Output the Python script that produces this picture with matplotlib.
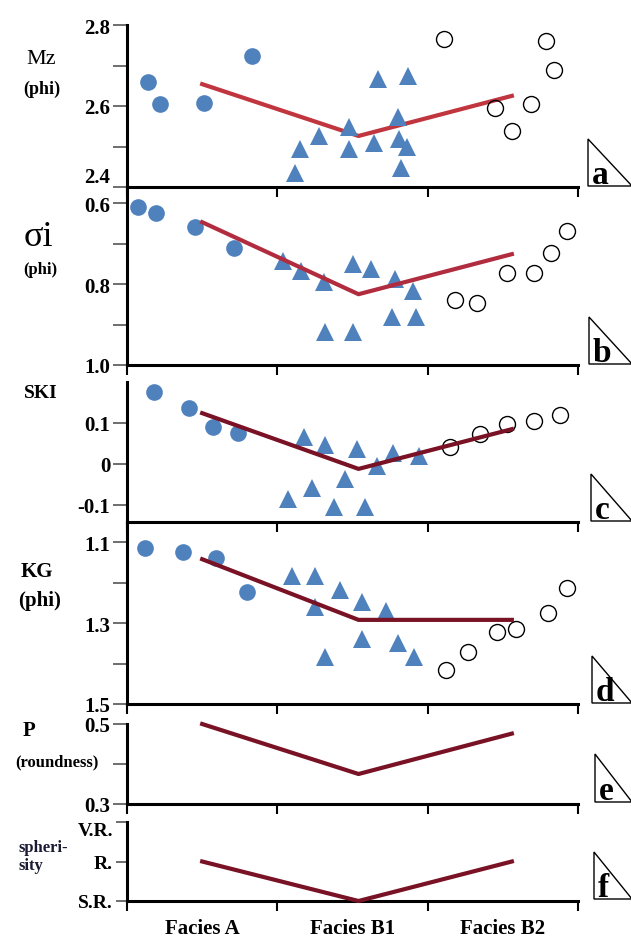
import matplotlib
matplotlib.use("Agg")
import matplotlib.pyplot as plt
from matplotlib.patches import Polygon

W, H = 631, 937
SERIF = ["Liberation Serif", "DejaVu Serif"]
BLUE = "#4f81bd"

facies_labels = ["Facies A", "Facies B1", "Facies B2"]
trend_x = [0.5, 1.54, 2.56]

# panel a: Mz (phi)
mz_a_x = [0.14, 0.22, 0.51, 0.83]
mz_a_y = [2.659, 2.605, 2.607, 2.723]
mz_b1_x = [1.12, 1.15, 1.28, 1.48, 1.48, 1.64, 1.67, 1.80, 1.81, 1.86, 1.82, 1.87]
mz_b1_y = [2.435, 2.494, 2.527, 2.494, 2.549, 2.509, 2.666, 2.573, 2.519, 2.499, 2.447, 2.674]
mz_b2_x = [2.11, 2.45, 2.56, 2.69, 2.79, 2.84]
mz_b2_y = [2.765, 2.595, 2.538, 2.605, 2.760, 2.690]
mz_trend = [2.654, 2.526, 2.625]

# panel b: sigma i (phi)
so_a_x = [0.07, 0.19, 0.45, 0.71]
so_a_y = [0.610, 0.625, 0.659, 0.711]
so_b1_x = [1.04, 1.16, 1.31, 1.32, 1.50, 1.50, 1.62, 1.78, 1.90, 1.76, 1.92]
so_b1_y = [0.743, 0.768, 0.795, 0.919, 0.919, 0.751, 0.763, 0.788, 0.817, 0.881, 0.881]
so_b2_x = [2.18, 2.33, 2.53, 2.71, 2.82, 2.93]
so_b2_y = [0.840, 0.847, 0.773, 0.773, 0.723, 0.669]
so_trend = [0.647, 0.825, 0.726]

# panel c: SKI
sk_a_x = [0.18, 0.41, 0.57, 0.74]
sk_a_y = [0.176, 0.137, 0.090, 0.076]
sk_b1_x = [1.07, 1.23, 1.18, 1.32, 1.53, 1.45, 1.38, 1.58, 1.66, 1.77, 1.94]
sk_b1_y = [-0.085, -0.059, 0.066, 0.046, 0.037, -0.037, -0.105, -0.105, -0.005, 0.027, 0.020]
sk_b2_x = [2.15, 2.35, 2.53, 2.71, 2.88]
sk_b2_y = [0.041, 0.073, 0.098, 0.105, 0.120]
sk_trend = [0.124, -0.012, 0.085]

# panel d: KG (phi)
kg_a_x = [0.12, 0.37, 0.59, 0.80]
kg_a_y = [1.115, 1.125, 1.140, 1.223]
kg_b1_x = [1.10, 1.25, 1.25, 1.42, 1.56, 1.72, 1.56, 1.80, 1.32, 1.91]
kg_b1_y = [1.184, 1.184, 1.260, 1.219, 1.248, 1.270, 1.340, 1.349, 1.384, 1.384]
kg_b2_x = [2.12, 2.27, 2.46, 2.59, 2.80, 2.93]
kg_b2_y = [1.416, 1.372, 1.322, 1.315, 1.275, 1.214]
kg_trend = [1.142, 1.292, 1.292]

# panel e: roundness, panel f: sphericity classes
round_trend = [0.50, 0.375, 0.476]
sph_levels = ["S.R.", "R.", "V.R."]
sph_trend = [1, 0, 1]


def rect(top, bottom, left=127, right=578):
    return [left / W, 1 - bottom / H, (right - left) / W, (bottom - top) / H]


def style_axis(ax, yticks, ylabels, ylim, tick_len=10, size=15):
    ax.set_xlim(0, 3)
    ax.set_ylim(*ylim)
    for side in ["top", "right"]:
        ax.spines[side].set_visible(False)
    ax.spines["left"].set_linewidth(2.2)
    ax.spines["bottom"].set_linewidth(2.2)
    ax.set_yticks(yticks)
    ax.set_yticklabels(ylabels, fontfamily=SERIF, fontweight="bold", fontsize=size)
    ax.tick_params(axis="y", direction="out", length=tick_len, width=1.2, color="#555555", pad=2)
    ax.set_xticks([0, 1, 2, 3])
    ax.set_xticklabels([])
    ax.tick_params(axis="x", direction="out", length=7, width=1.5, color="black")
    ax.patch.set_alpha(0)


def draw_points(ax, ax_x, ay, bx, by, cx, cy):
    ax.plot(ax_x, ay, "o", color=BLUE, markersize=12, markeredgewidth=0, zorder=3, clip_on=False)
    ax.plot(bx, by, "^", color=BLUE, markersize=13, markeredgewidth=0, zorder=3, clip_on=False)
    ax.plot(cx, cy, "o", markerfacecolor="none", markeredgecolor="black",
            markersize=11.5, markeredgewidth=1.0, zorder=3, clip_on=False)


def corner_tag(fig, letter, left, top, bottom, right=632):
    tri = Polygon([(left / W, 1 - top / H), (left / W, 1 - bottom / H), (right / W, 1 - bottom / H)],
                  closed=True, fill=False, edgecolor="black", linewidth=1.0,
                  transform=fig.transFigure)
    fig.patches.append(tri)
    fig.text((left + 4) / W, 1 - (bottom - 3) / H, letter, fontfamily=SERIF,
             fontweight="bold", fontsize=24, ha="left", va="baseline")


def label(fig, x, y, s, size=14, weight="bold", color="black"):
    fig.text(x / W, 1 - y / H, s, fontfamily=SERIF, fontweight=weight, fontsize=size,
             ha="center", va="center", color=color)


def main():
    fig = plt.figure(figsize=(W / 100, H / 100), dpi=100)

    # a
    ax = fig.add_axes(rect(26, 188))
    style_axis(ax, [2.4, 2.5, 2.6, 2.7, 2.8], ["2.4", "", "2.6", "", "2.8"], (2.4, 2.8))
    ax.get_yticklabels()[0].set_va("bottom")
    ax.plot(trend_x, mz_trend, color="#c0353e", linewidth=3, zorder=2)
    draw_points(ax, mz_a_x, mz_a_y, mz_b1_x, mz_b1_y, mz_b2_x, mz_b2_y)

    # b
    ax = fig.add_axes(rect(188, 366))
    style_axis(ax, [0.6, 0.7, 0.8, 0.9, 1.0], ["0.6", "", "0.8", "", "1.0"], (1.0, 0.56))
    draw_points(ax, so_a_x, so_a_y, so_b1_x, so_b1_y, so_b2_x, so_b2_y)
    ax.plot(trend_x, so_trend, color="#b02c3e", linewidth=3, zorder=4)

    # c
    ax = fig.add_axes(rect(383, 523))
    style_axis(ax, [-0.1, 0, 0.1], ["-0.1", "0", "0.1"], (-0.1415, 0.2))
    draw_points(ax, sk_a_x, sk_a_y, sk_b1_x, sk_b1_y, sk_b2_x, sk_b2_y)
    ax.plot(trend_x, sk_trend, color="#7a1226", linewidth=3, zorder=4)

    # d
    ax = fig.add_axes(rect(523, 705))
    style_axis(ax, [1.1, 1.2, 1.3, 1.4, 1.5], ["1.1", "", "1.3", "", "1.5"], (1.5, 1.05))
    draw_points(ax, kg_a_x, kg_a_y, kg_b1_x, kg_b1_y, kg_b2_x, kg_b2_y)
    ax.plot(trend_x, kg_trend, color="#7a1226", linewidth=3, zorder=4)

    # e
    ax = fig.add_axes(rect(725, 805))
    style_axis(ax, [0.3, 0.4, 0.5], ["0.3", "", "0.5"], (0.3, 0.5))
    ax.plot(trend_x, round_trend, color="#7a1226", linewidth=3, zorder=4, clip_on=False)

    # f
    ax = fig.add_axes(rect(823, 902))
    style_axis(ax, [0, 1, 2], sph_levels, (0, 2), tick_len=8, size=14)
    ax.get_yticklabels()[-1].set_va("top")
    ax.plot(trend_x, sph_trend, color="#7a1226", linewidth=3, zorder=4, clip_on=False)
    ax.set_xticks([0.5, 1.5, 2.5], minor=True)
    ax.set_xticklabels(facies_labels, minor=True, fontfamily=SERIF, fontweight="bold", fontsize=15)
    ax.tick_params(axis="x", which="minor", length=0, pad=12)

    # left-hand axis titles
    label(fig, 41, 60, "Mz", size=16, weight="normal")
    label(fig, 42, 89, "(phi)", size=13)
    label(fig, 38, 238, "σi", size=26, weight="normal")
    label(fig, 40, 270, "(phi)", size=12)
    label(fig, 41, 393, "SKI", size=14)
    label(fig, 37, 572, "KG", size=15)
    label(fig, 40, 601, "(phi)", size=15)
    label(fig, 29, 731, "P", size=15)
    label(fig, 57, 762, "(roundness)", size=12)
    label(fig, 43, 848, "spheri-", size=12, color="#1a1a33")
    label(fig, 31, 866, "sity", size=12, color="#1a1a33")

    # panel letters in corner triangles
    corner_tag(fig, "a", 588, 140, 187)
    corner_tag(fig, "b", 589, 318, 365)
    corner_tag(fig, "c", 591, 475, 522)
    corner_tag(fig, "d", 592, 657, 704)
    corner_tag(fig, "e", 595, 755, 803)
    corner_tag(fig, "f", 594, 853, 900)

    fig.savefig("out.png", dpi=100)
    plt.close(fig)


if __name__ == "__main__":
    main()
